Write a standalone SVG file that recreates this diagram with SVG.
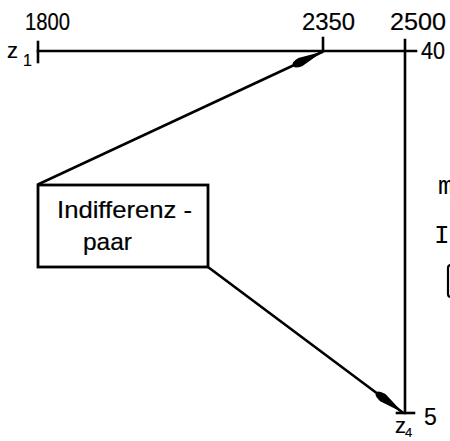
<svg xmlns="http://www.w3.org/2000/svg" width="450" height="441" viewBox="0 0 450 441">
<style>
.ln{stroke:#000;stroke-width:2.6;fill:none;stroke-linecap:square}
.t{font-family:"Liberation Sans","DejaVu Sans",sans-serif;fill:#000;stroke:#000;stroke-width:0.2}
.m{font-family:"Liberation Mono","DejaVu Sans Mono",monospace;fill:#000}
</style>
<defs>
<marker id="ah" markerUnits="userSpaceOnUse" markerWidth="44" markerHeight="14" viewBox="-40 -7 44 14" refX="0" refY="0" orient="auto">
<path d="M1,0 L-24,-4.5 Q-33,-3.5 -32,0 Q-33,3.5 -24,4.5 Z" fill="#000"/>
</marker>
</defs>
<rect width="450" height="441" fill="#fff"/>
<g id="axis-z1">
<line class="ln" x1="38" y1="51" x2="416" y2="51"/>
<line class="ln" x1="38" y1="42" x2="38" y2="62"/>
<line class="ln" x1="323" y1="38" x2="323" y2="51"/>
<text class="t" x="25" y="30" font-size="24" textLength="45" lengthAdjust="spacingAndGlyphs">1800</text>
<text class="t" x="302" y="30" font-size="24" textLength="53" lengthAdjust="spacingAndGlyphs">2350</text>
<text class="t" x="390" y="30" font-size="24" textLength="56" lengthAdjust="spacingAndGlyphs">2500</text>
<text class="t" x="421" y="59" font-size="23" textLength="24" lengthAdjust="spacingAndGlyphs">40</text>
<text class="t" x="7" y="58" font-size="22">z</text>
<text class="t" x="23" y="66" font-size="16">1</text>
</g>
<g id="axis-z4">
<line class="ln" x1="405" y1="40" x2="405" y2="413"/>
<line class="ln" x1="397" y1="413" x2="414" y2="413"/>
<text class="t" x="424" y="425" font-size="23">5</text>
<text class="t" x="395" y="433" font-size="22">z</text>
<text class="t" x="405" y="437" font-size="13">4</text>
</g>
<g id="node-indifferenzpaar">
<rect x="38" y="185" width="170" height="82" fill="#fff" stroke="#000" stroke-width="2.8"/>
<text class="t" x="57" y="218" font-size="24" textLength="135" lengthAdjust="spacingAndGlyphs">Indifferenz -</text>
<text class="t" x="83" y="250" font-size="24" textLength="49" lengthAdjust="spacingAndGlyphs">paar</text>
</g>
<g id="connectors">
<line class="ln" x1="39" y1="184" x2="322" y2="52" marker-end="url(#ah)"/>
<line class="ln" x1="208" y1="267" x2="402" y2="412" marker-end="url(#ah)"/>
</g>
<g id="right-edge">
<text class="m" x="438" y="194" font-size="26">m</text>
<text class="m" x="434" y="243" font-size="26">I</text>
<rect x="448" y="265" width="20" height="32" rx="3" fill="none" stroke="#000" stroke-width="2.2"/>
</g>
</svg>
